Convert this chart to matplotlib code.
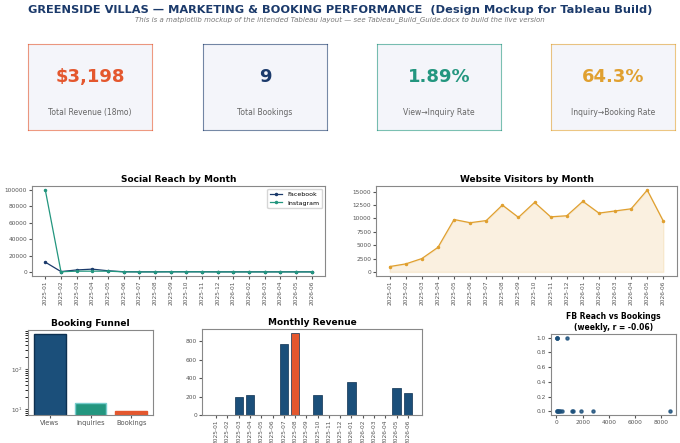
import matplotlib
matplotlib.use("Agg")
import matplotlib.pyplot as plt
import numpy as np

months = ["2025-01","2025-02","2025-03","2025-04","2025-05","2025-06","2025-07","2025-08","2025-09",
          "2025-10","2025-11","2025-12","2026-01","2026-02","2026-03","2026-04","2026-05","2026-06"]
facebook = [12000, 500, 2500, 3500, 1500, 300, 200, 200, 300, 300, 300, 200, 200, 200, 200, 200, 200, 200]
instagram = [100000, 300, 1000, 1000, 1000, 200, 100, 100, 200, 200, 200, 100, 100, 100, 100, 100, 100, 100]
visitors = [1000, 1500, 2500, 4600, 9800, 9200, 9600, 12500, 10200, 13000, 10300, 10500, 13200, 11000, 11400, 11800, 15300, 9500]
revenue = [0, 0, 200, 220, 0, 0, 775, 890, 0, 220, 0, 0, 360, 0, 0, 0, 290, 243]
funnel_labels = ["Views", "Inquiries", "Bookings"]
funnel_values = [741, 14, 9]
kpi_values = ["$3,198", "9", "1.89%", "64.3%"]
kpi_labels = ["Total Revenue (18mo)", "Total Bookings", "View\u2192Inquiry Rate", "Inquiry\u2192Booking Rate"]
kpi_colors = ["#e4572e", "#1b3a6b", "#23967f", "#e0a030"]
scatter_x = [20, 50, 80, 800, 20, 50, 100, 200, 300, 400, 1200, 1300, 1900, 2800, 8700]
scatter_y = [1, 1, 1, 1, 0, 0, 0, 0, 0, 0, 0, 0, 0, 0, 0]

W, H = 680, 443
fig = plt.figure(figsize=(6.8, 4.43), dpi=100)
def ax_px(x0, y0, x1, y1):
    return fig.add_axes([x0 / W, 1 - y1 / H, (x1 - x0) / W, (y1 - y0) / H])

fig.text(0.5, 0.978, "GREENSIDE VILLAS \u2014 MARKETING & BOOKING PERFORMANCE  (Design Mockup for Tableau Build)",
         ha="center", va="center", fontsize=8.2, fontweight="bold", color="#1b3a6b")
fig.text(0.5, 0.955, "This is a matplotlib mockup of the intended Tableau layout \u2014 see Tableau_Build_Guide.docx to build the live version",
         ha="center", va="center", fontsize=5, style="italic", color="#777777")

kx = [28, 203, 377, 551]
for x0, v, l, c in zip(kx, kpi_values, kpi_labels, kpi_colors):
    a = ax_px(x0, 44, x0 + 124, 130)
    a.set_facecolor("#f4f5fa")
    a.set_xticks([]); a.set_yticks([])
    for s in a.spines.values():
        s.set_color(c); s.set_alpha(0.6)
    a.text(0.5, 0.62, v, ha="center", va="center", fontsize=13, fontweight="bold", color=c, transform=a.transAxes)
    a.text(0.5, 0.2, l, ha="center", va="center", fontsize=5.5, color="#666666", transform=a.transAxes)

def style(a):
    a.tick_params(labelsize=4.2, colors="#555555", length=2, pad=1.5)
    for s in a.spines.values():
        s.set_color("#888888")

x = np.arange(len(months))
a1 = ax_px(32, 186, 325, 276)
a1.plot(x, facebook, color="#1b3a6b", marker="o", ms=1.5, lw=0.9, label="Facebook")
a1.plot(x, instagram, color="#23967f", marker="o", ms=1.5, lw=0.9, label="Instagram")
a1.set_xticks(x); a1.set_xticklabels(months, rotation=90, fontsize=3.2)
a1.set_title("Social Reach by Month", fontsize=6.5, fontweight="bold", pad=3)
a1.legend(fontsize=4.5, loc="upper right")
style(a1)

a2 = ax_px(376, 186, 677, 276)
a2.plot(x, visitors, color="#e0a030", marker="o", ms=1.5, lw=0.9)
a2.fill_between(x, visitors, color="#e0a030", alpha=0.15)
a2.set_xticks(x); a2.set_xticklabels(months, rotation=90, fontsize=3.2)
a2.set_title("Website Visitors by Month", fontsize=6.5, fontweight="bold", pad=3)
style(a2)

a3 = ax_px(28, 330, 153, 415)
a3.bar(funnel_labels, funnel_values, color=["#1b4f7a", "#23967f", "#e4572e"], edgecolor=["#0d3050", "#7cc", "#e4572e"], width=0.78)
a3.set_yscale("log")
a3.set_ylim(7, 950)
a3.set_title("Booking Funnel", fontsize=6.5, fontweight="bold", pad=3)
style(a3)
a3.tick_params(axis="x", labelsize=4.8)

a4 = ax_px(202, 329, 422, 415)
cols = ["#e4572e" if v == max(revenue) else "#1b4f7a" for v in revenue]
a4.bar(x, revenue, color=cols, edgecolor="#0d3050", width=0.75, lw=0.5)
a4.set_xticks(x); a4.set_xticklabels(months, rotation=90, fontsize=3.0)
a4.set_title("Monthly Revenue", fontsize=6.5, fontweight="bold", pad=3)
style(a4)

a5 = ax_px(551, 334, 676, 415)
a5.scatter(scatter_x, scatter_y, s=5, color="#1b4f7a", alpha=0.8)
a5.set_title("FB Reach vs Bookings\n(weekly, r = -0.06)", fontsize=5.5, fontweight="bold", pad=3)
style(a5)

fig.savefig("out.png", dpi=100)
